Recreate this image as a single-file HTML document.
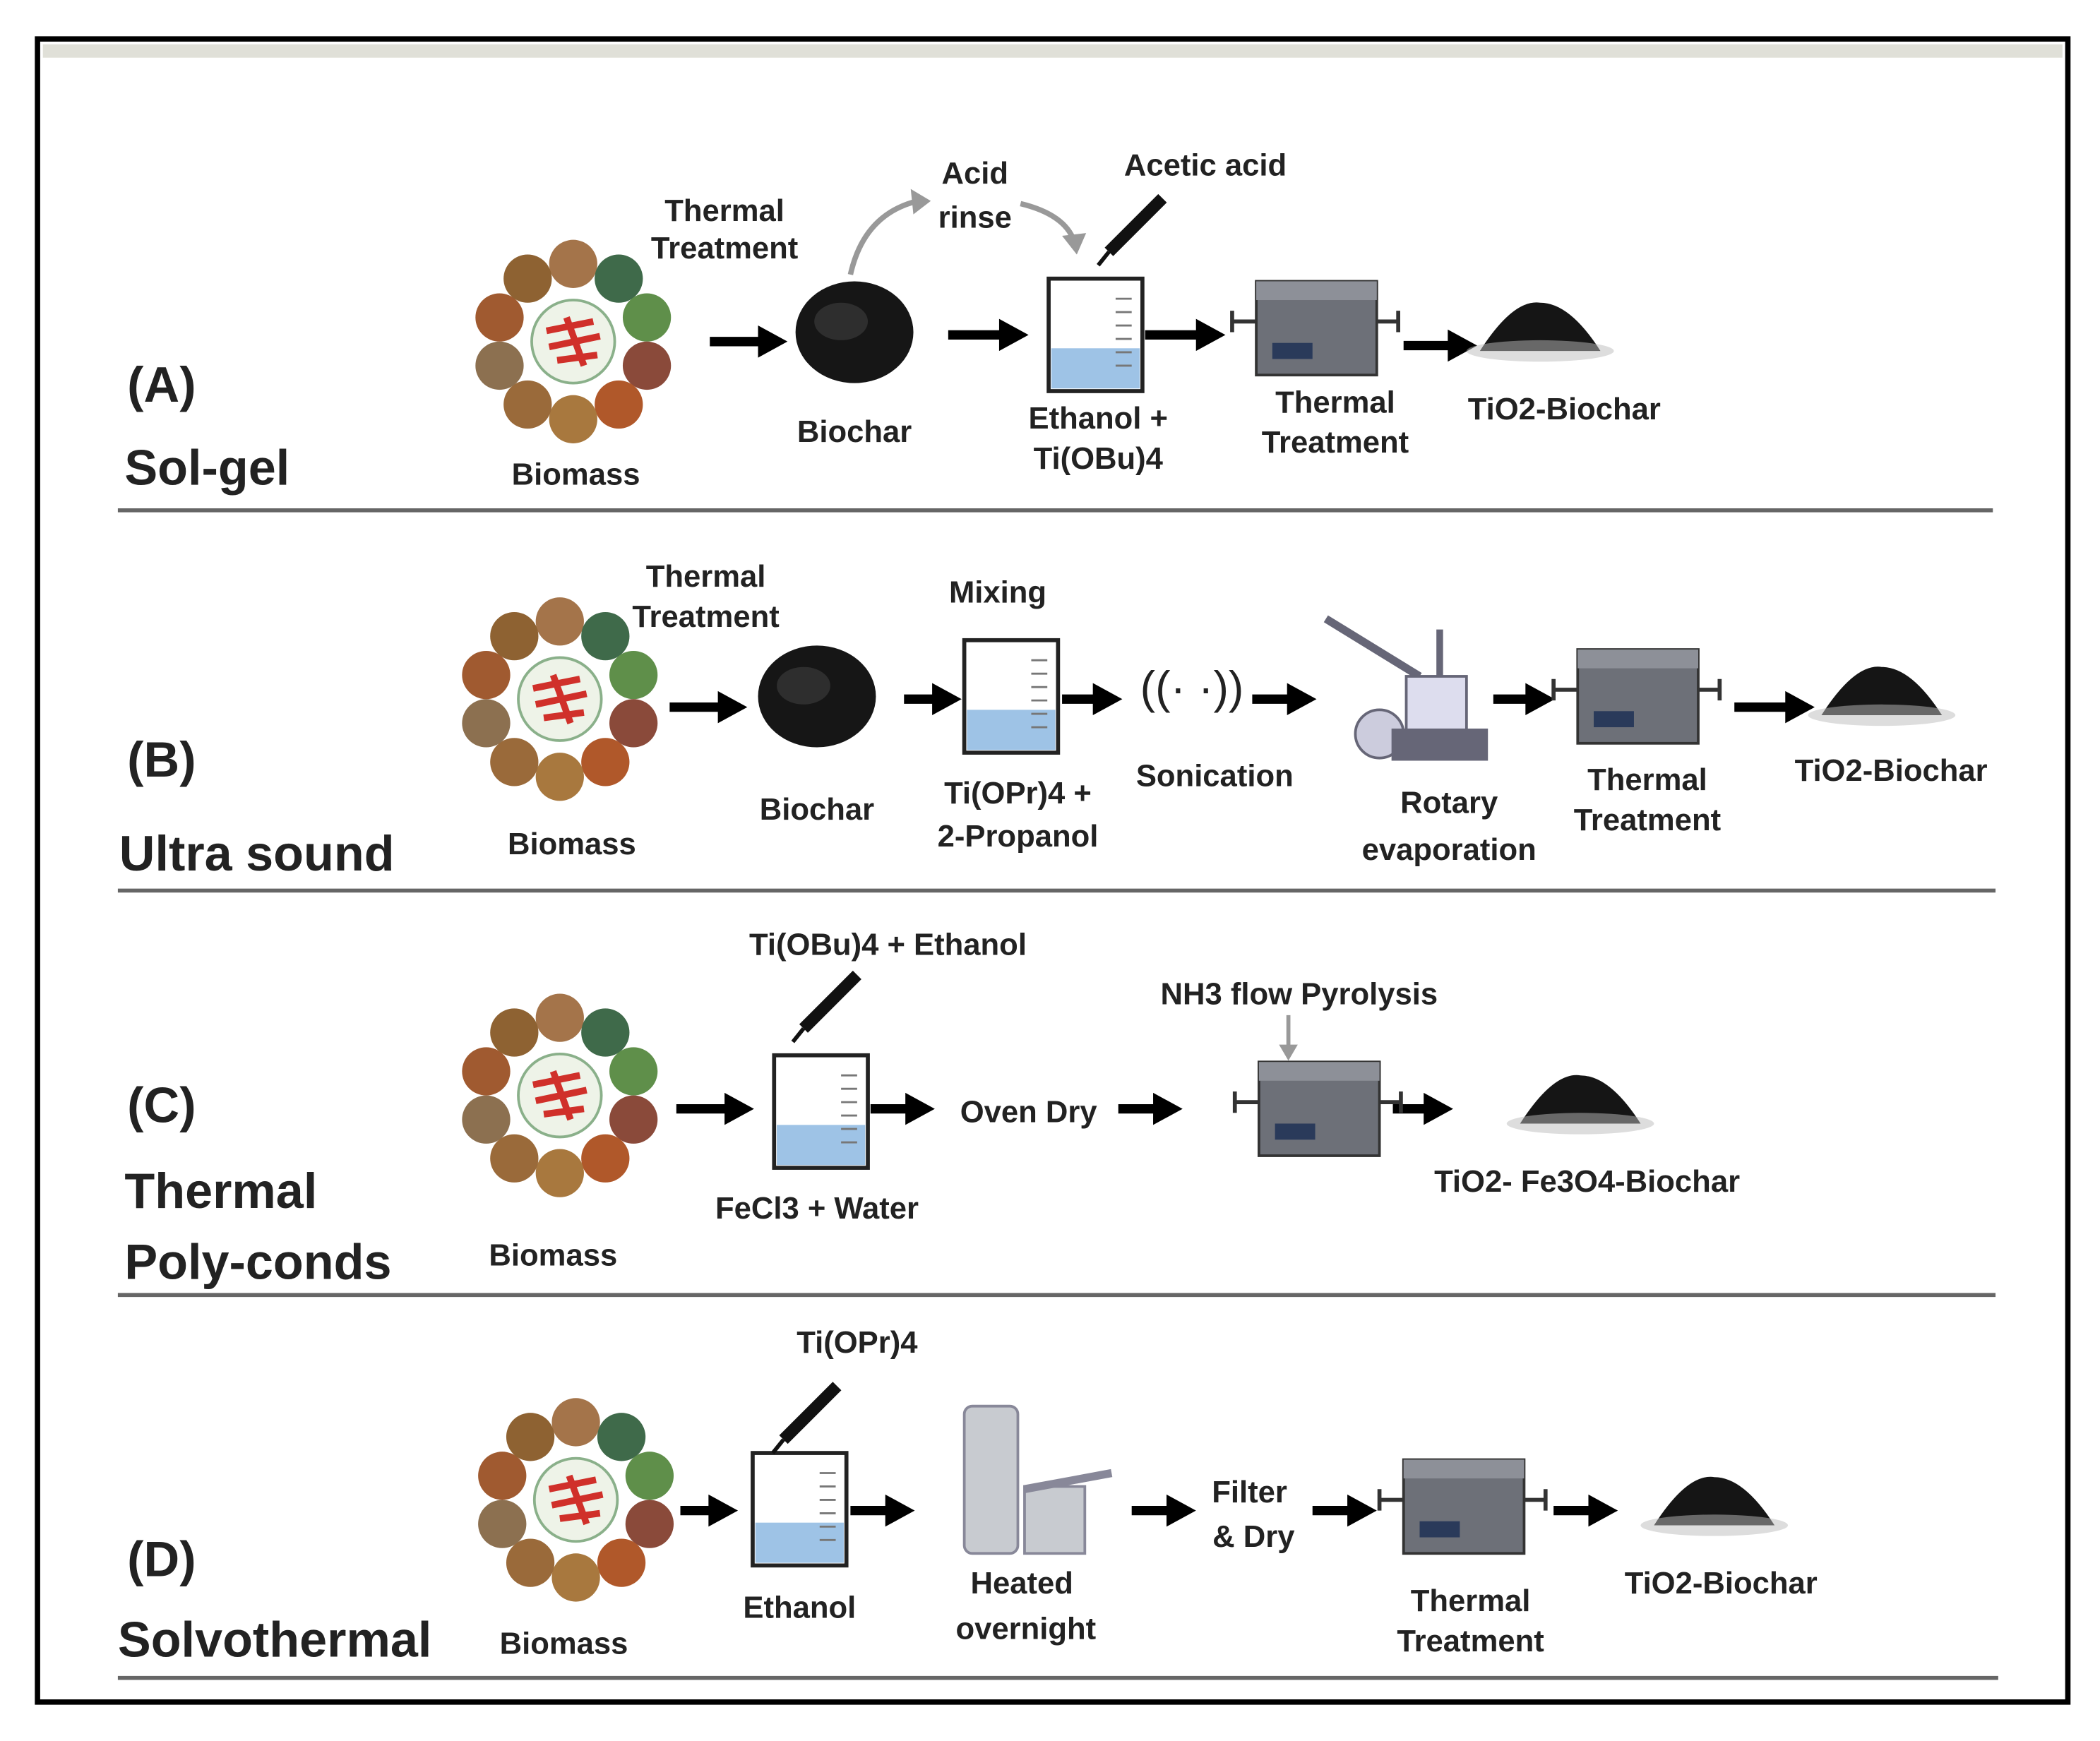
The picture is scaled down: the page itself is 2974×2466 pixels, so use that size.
<!DOCTYPE html>
<html><head><meta charset="utf-8"><style>
html,body{margin:0;padding:0;background:#fff;}
svg{display:block;}
text{font-family:"Liberation Sans",sans-serif;font-weight:bold;fill:#222;text-anchor:middle;}
.s{font-size:23px;}
.b{font-size:37px;text-anchor:start;}
</style></head><body>
<svg width="2974" height="2466" viewBox="0 0 1568 1300" xmlns="http://www.w3.org/2000/svg">
<defs>
<g id="bm">
<circle cx="0" cy="-58" r="18" fill="#a4744a"/>
<circle cx="34" cy="-47" r="18" fill="#3f6a4a"/>
<circle cx="55" cy="-18" r="18" fill="#5f8f4a"/>
<circle cx="55" cy="18" r="18" fill="#8a4a3a"/>
<circle cx="34" cy="47" r="18" fill="#b0582a"/>
<circle cx="0" cy="58" r="18" fill="#a8783e"/>
<circle cx="-34" cy="47" r="18" fill="#9a6a3a"/>
<circle cx="-55" cy="18" r="18" fill="#8c7050"/>
<circle cx="-55" cy="-18" r="18" fill="#a05a30"/>
<circle cx="-34" cy="-47" r="18" fill="#8e6232"/>
<circle cx="0" cy="0" r="31" fill="#eef3e8" stroke="#8ab08a" stroke-width="2"/>
<path d="M-20,-8 L15,-15 M-18,4 L20,-4 M-12,14 L18,10 M-5,-18 L8,18" stroke="#d0302a" stroke-width="5" fill="none"/>
</g>
<g id="bc">
<ellipse cx="0" cy="0" rx="44" ry="38" fill="#161616"/>
<ellipse cx="-10" cy="-8" rx="20" ry="14" fill="#2e2e2e"/>
</g>
<g id="bk">
<rect x="0" y="0" width="70" height="84" fill="#fff" stroke="#222" stroke-width="3"/>
<rect x="2" y="52" width="66" height="30" fill="#9ec3e6"/>
<path d="M50,15 h12 M50,25 h12 M50,35 h12 M50,45 h12 M50,55 h12 M50,65 h12" stroke="#777" stroke-width="1.5"/>
</g>
<g id="fu">
<rect x="18" y="0" width="90" height="70" fill="#6d7078" stroke="#333" stroke-width="2"/>
<rect x="18" y="0" width="90" height="14" fill="#8d9098"/>
<rect x="30" y="46" width="30" height="12" fill="#2a3a5a"/>
<path d="M0,30 h18 M108,30 h16 M0,22 v16 M124,22 v16" stroke="#333" stroke-width="3"/>
</g>
<g id="pw">
<path d="M-45,14 Q-20,-25 0,-22 Q22,-22 45,14 Z" fill="#151515"/>
<ellipse cx="0" cy="14" rx="55" ry="8" fill="#bbb" opacity="0.5"/>
</g>
<g id="dr">
<path d="M0,0 L-40,40" stroke="#111" stroke-width="9"/>
<path d="M-40,40 L-48,50" stroke="#111" stroke-width="3"/>
</g>
</defs>

<rect x="28" y="29" width="1516" height="1242" fill="#fff" stroke="#000" stroke-width="4"/>
<rect x="32" y="33" width="1508" height="10" fill="#e0e0d8"/>
<g stroke="#666" stroke-width="3">
<line x1="88" y1="381" x2="1488" y2="381"/>
<line x1="88" y1="665" x2="1490" y2="665"/>
<line x1="88" y1="967" x2="1490" y2="967"/>
<line x1="88" y1="1253" x2="1492" y2="1253"/>
</g>

<g fill="#000" stroke="#000">
<g stroke-width="7">
<line x1="530" y1="255" x2="570" y2="255"/><line x1="708" y1="250" x2="750" y2="250"/>
<line x1="855" y1="250" x2="897" y2="250"/><line x1="1048" y1="258" x2="1085" y2="258"/>
<line x1="500" y1="528" x2="540" y2="528"/><line x1="675" y1="522" x2="700" y2="522"/>
<line x1="793" y1="522" x2="820" y2="522"/><line x1="935" y1="522" x2="965" y2="522"/>
<line x1="1115" y1="522" x2="1143" y2="522"/><line x1="1295" y1="528" x2="1337" y2="528"/>
<line x1="505" y1="828" x2="545" y2="828"/><line x1="650" y1="828" x2="680" y2="828"/>
<line x1="835" y1="828" x2="865" y2="828"/><line x1="1040" y1="828" x2="1067" y2="828"/>
<line x1="508" y1="1128" x2="533" y2="1128"/><line x1="635" y1="1128" x2="665" y2="1128"/>
<line x1="845" y1="1128" x2="875" y2="1128"/><line x1="980" y1="1128" x2="1010" y2="1128"/>
<line x1="1160" y1="1128" x2="1190" y2="1128"/>
</g>
<g stroke="none">
<polygon points="566,243 588,255 566,267"/><polygon points="746,238 768,250 746,262"/>
<polygon points="893,238 915,250 893,262"/><polygon points="1081,246 1103,258 1081,270"/>
<polygon points="536,516 558,528 536,540"/><polygon points="696,510 718,522 696,534"/>
<polygon points="816,510 838,522 816,534"/><polygon points="961,510 983,522 961,534"/>
<polygon points="1139,510 1161,522 1139,534"/><polygon points="1333,516 1355,528 1333,540"/>
<polygon points="541,816 563,828 541,840"/><polygon points="676,816 698,828 676,840"/>
<polygon points="861,816 883,828 861,840"/><polygon points="1063,816 1085,828 1063,840"/>
<polygon points="529,1116 551,1128 529,1140"/><polygon points="661,1116 683,1128 661,1140"/>
<polygon points="871,1116 893,1128 871,1140"/><polygon points="1006,1116 1028,1128 1006,1140"/>
<polygon points="1186,1116 1208,1128 1186,1140"/>
</g>
</g>

<!-- Row A -->
<use href="#bm" x="428" y="255"/>
<use href="#bc" x="638" y="248"/>
<path d="M635,205 Q645,160 685,150" stroke="#999" stroke-width="4" fill="none"/>
<polygon points="680,141 695,150 682,160" fill="#999"/>
<path d="M762,152 Q795,160 802,180" stroke="#999" stroke-width="4" fill="none"/>
<polygon points="793,176 804,190 811,174" fill="#999"/>
<use href="#bk" x="783" y="208"/>
<use href="#dr" x="868" y="148"/>
<use href="#fu" x="920" y="210"/>
<use href="#pw" x="1150" y="248"/>
<text class="b" x="95" y="300">(A)</text>
<text class="b" x="93" y="362">Sol-gel</text>
<text class="s" x="430" y="362">Biomass</text>
<text class="s" x="541" y="165">Thermal</text><text class="s" x="541" y="193">Treatment</text>
<text class="s" x="638" y="330">Biochar</text>
<text class="s" x="728" y="137">Acid</text><text class="s" x="728" y="170">rinse</text>
<text class="s" x="900" y="131">Acetic acid</text>
<text class="s" x="820" y="320">Ethanol +</text><text class="s" x="820" y="350">Ti(OBu)4</text>
<text class="s" x="997" y="308">Thermal</text><text class="s" x="997" y="338">Treatment</text>
<text class="s" x="1168" y="313">TiO2-Biochar</text>

<!-- Row B -->
<use href="#bm" x="418" y="522"/>
<use href="#bc" x="610" y="520"/>
<use href="#bk" x="720" y="478"/>
<text x="890" y="525" style="font-size:34px;font-weight:normal">((·  ·))</text>
<g fill="#aab" stroke="#667" stroke-width="2">
<line x1="990" y1="462" x2="1060" y2="505" stroke-width="6"/>
<circle cx="1030" cy="548" r="18" fill="#ccd"/>
<rect x="1050" y="505" width="45" height="40" fill="#dde"/>
<rect x="1040" y="545" width="70" height="22" fill="#667"/>
<line x1="1075" y1="470" x2="1075" y2="505" stroke-width="5"/>
</g>
<use href="#fu" x="1160" y="485"/>
<use href="#pw" x="1405" y="520"/>
<text class="b" x="95" y="580">(B)</text>
<text class="b" x="89" y="650">Ultra sound</text>
<text class="s" x="427" y="638">Biomass</text>
<text class="s" x="527" y="438">Thermal</text><text class="s" x="527" y="468">Treatment</text>
<text class="s" x="610" y="612">Biochar</text>
<text class="s" x="745" y="450">Mixing</text>
<text class="s" x="760" y="600">Ti(OPr)4 +</text><text class="s" x="760" y="632">2-Propanol</text>
<text class="s" x="907" y="587">Sonication</text>
<text class="s" x="1082" y="607">Rotary</text><text class="s" x="1082" y="642">evaporation</text>
<text class="s" x="1230" y="590">Thermal</text><text class="s" x="1230" y="620">Treatment</text>
<text class="s" x="1412" y="583">TiO2-Biochar</text>

<!-- Row C -->
<use href="#bm" x="418" y="818"/>
<use href="#bk" x="578" y="788"/>
<use href="#dr" x="640" y="728"/>
<line x1="962" y1="758" x2="962" y2="782" stroke="#999" stroke-width="3"/>
<polygon points="955,780 962,792 969,780" fill="#999"/>
<use href="#fu" x="922" y="793"/>
<use href="#pw" x="1180" y="825"/>
<text class="b" x="95" y="838">(C)</text>
<text class="b" x="93" y="902">Thermal</text>
<text class="b" x="93" y="955">Poly-conds</text>
<text class="s" x="413" y="945">Biomass</text>
<text class="s" x="663" y="713">Ti(OBu)4 + Ethanol</text>
<text class="s" x="610" y="910">FeCl3 + Water</text>
<text class="s" x="768" y="838">Oven Dry</text>
<text class="s" x="970" y="750">NH3 flow Pyrolysis</text>
<text class="s" x="1185" y="890">TiO2- Fe3O4-Biochar</text>

<!-- Row D -->
<use href="#bm" x="430" y="1120"/>
<use href="#bk" x="562" y="1085"/>
<use href="#dr" x="625" y="1035"/>
<g fill="#c8cbd0" stroke="#889" stroke-width="2">
<rect x="720" y="1050" width="40" height="110" rx="6"/>
<rect x="765" y="1110" width="45" height="50"/>
<line x1="765" y1="1112" x2="830" y2="1100" stroke-width="6"/>
</g>
<use href="#fu" x="1030" y="1090"/>
<use href="#pw" x="1280" y="1125"/>
<text class="b" x="95" y="1177">(D)</text>
<text class="b" x="88" y="1237">Solvothermal</text>
<text class="s" x="421" y="1235">Biomass</text>
<text class="s" x="640" y="1010">Ti(OPr)4</text>
<text class="s" x="597" y="1208">Ethanol</text>
<text class="s" x="763" y="1190">Heated</text><text class="s" x="766" y="1224">overnight</text>
<text class="s" x="933" y="1122">Filter</text><text class="s" x="936" y="1155">&amp; Dry</text>
<text class="s" x="1098" y="1203">Thermal</text><text class="s" x="1098" y="1233">Treatment</text>
<text class="s" x="1285" y="1190">TiO2-Biochar</text>
</svg>
</body></html>
